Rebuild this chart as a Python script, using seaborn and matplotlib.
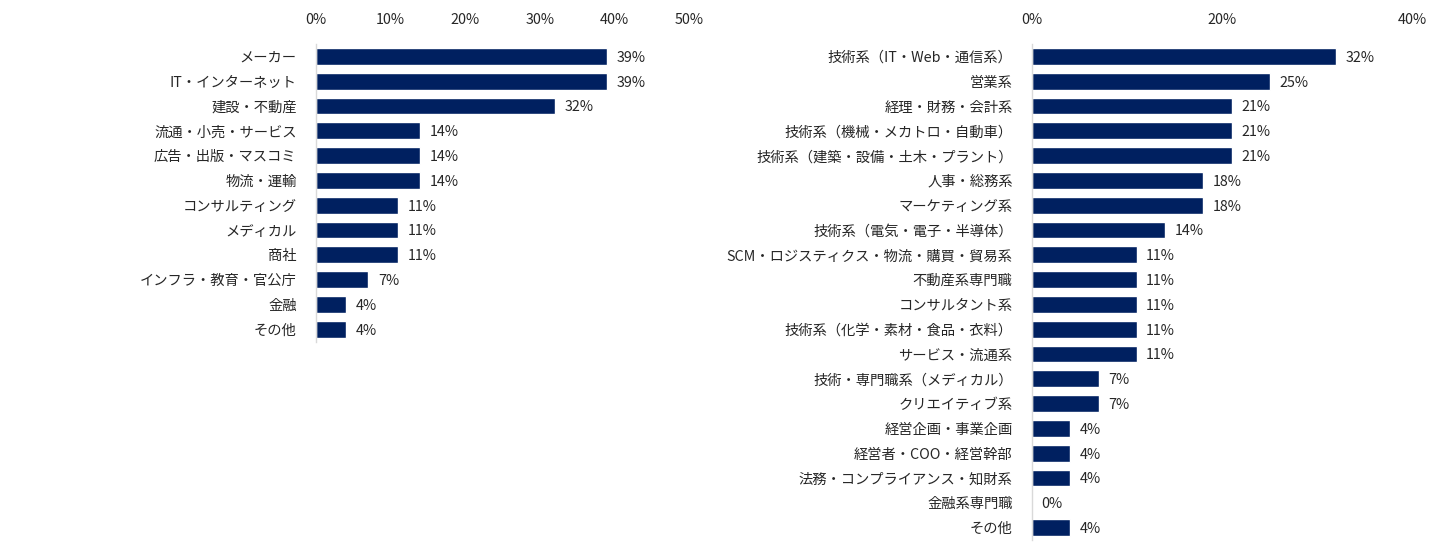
import matplotlib
matplotlib.use("Agg")
import pandas as pd
import matplotlib.pyplot as plt
import seaborn as sns

# left: 業種
industry = ["メーカー", "IT・インターネット", "建設・不動産", "流通・小売・サービス",
            "広告・出版・マスコミ", "物流・運輸", "コンサルティング", "メディカル",
            "商社", "インフラ・教育・官公庁", "金融", "その他"]
industry_pct = [39, 39, 32, 14, 14, 14, 11, 11, 11, 7, 4, 4]

# right: 職種
job = ["技術系（IT・Web・通信系）", "営業系", "経理・財務・会計系",
       "技術系（機械・メカトロ・自動車）", "技術系（建築・設備・土木・プラント）",
       "人事・総務系", "マーケティング系", "技術系（電気・電子・半導体）",
       "SCM・ロジスティクス・物流・購買・貿易系", "不動産系専門職", "コンサルタント系",
       "技術系（化学・素材・食品・衣料）", "サービス・流通系", "技術・専門職系（メディカル）",
       "クリエイティブ系", "経営企画・事業企画", "経営者・COO・経営幹部",
       "法務・コンプライアンス・知財系", "金融系専門職", "その他"]
job_pct = [32, 25, 21, 21, 21, 18, 18, 14, 11, 11, 11, 11, 11, 7, 7, 4, 4, 4, 0, 4]

left_ticks = [0, 10, 20, 30, 40, 50]
right_ticks = [0, 20, 40]

sns.set_theme(style="white")
plt.rcParams['font.family'] = ['Noto Sans CJK JP', 'DejaVu Sans']

W, H = 1446, 559
fig = plt.figure(figsize=(W / 100, H / 100), dpi=100)

BAR = "#002060"
TXT = "#262626"
FS = 10.3
step = 24.8


def panel(x0, x1, cats, vals, ticks):
    n = len(cats)
    top = 44
    bottom = top + n * step
    ax = fig.add_axes([x0 / W, 1 - bottom / H, (x1 - x0) / W, (bottom - top) / H])
    df = pd.DataFrame({"cat": cats, "pct": vals})
    sns.barplot(df, y="cat", x="pct", color=BAR, width=0.68, saturation=1, ax=ax)
    ax.set_xlim(ticks[0], ticks[-1])
    ax.set_ylim(n - 0.5, -0.5)
    ax.set_xticks(ticks)
    ax.set_xticklabels([f"{t}%" for t in ticks], fontsize=FS, color=TXT)
    ax.xaxis.tick_top()
    ax.tick_params(axis="x", length=0, pad=12)
    ax.tick_params(axis="y", length=0, pad=14, labelsize=FS, labelcolor=TXT)
    ax.set_xlabel("")
    ax.set_ylabel("")
    for s in ["top", "right", "bottom"]:
        ax.spines[s].set_visible(False)
    ax.spines["left"].set_color("#d9d9d9")
    ax.spines["left"].set_linewidth(1)
    for i, v in enumerate(vals):
        ax.annotate(f"{v}%", (v, i), xytext=(7, -1), textcoords="offset points",
                    va="center", ha="left", fontsize=FS, color=TXT)
    return ax


panel(316, 689, industry, industry_pct, left_ticks)
panel(1032, 1412, job, job_pct, right_ticks)

fig.savefig("out.png", dpi=100)
